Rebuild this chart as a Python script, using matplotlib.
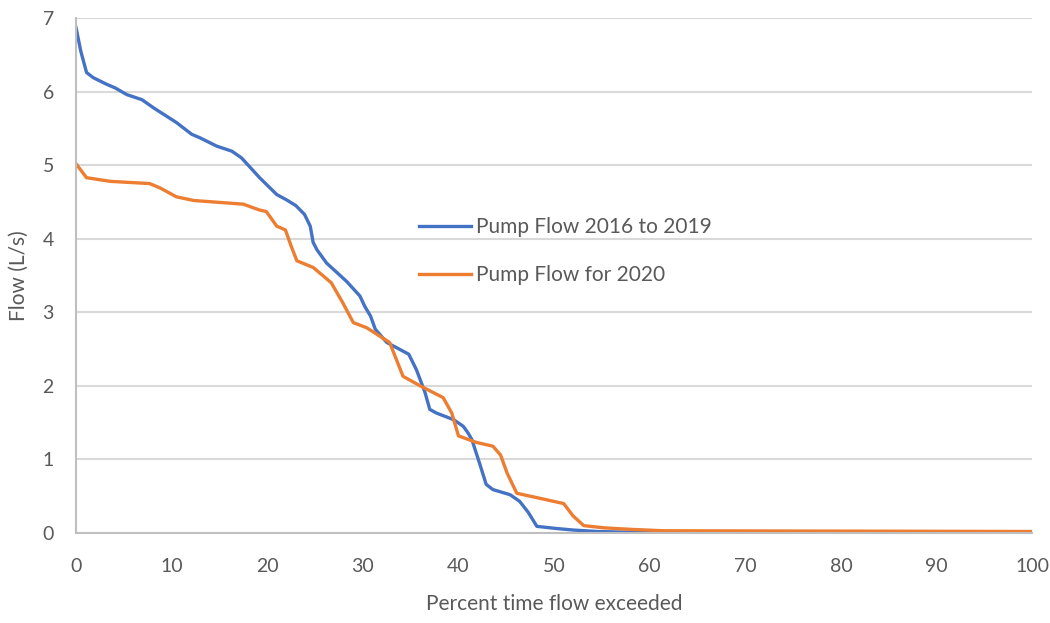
import matplotlib
matplotlib.use("Agg")
import matplotlib.pyplot as plt

# values (percent exceeded, flow L/s)
x_old = [0, 0.5, 1.1, 1.8, 3.2, 4.1, 5.3, 6.9, 8.1, 10.5, 12.1, 13.0, 14.7, 16.3, 17.3,
         19.2, 21.0, 22.0, 23.0, 23.9, 24.5, 24.8, 25.2, 26.2, 28.3, 29.7, 30.2, 30.8,
         31.3, 32.5, 34.8, 35.6, 36.5, 37.0, 37.7, 39.5, 40.5, 41.0, 41.4, 42.2, 42.9,
         43.6, 45.4, 46.4, 47.3, 48.2, 50.3, 52.0, 54.5, 58.0, 62.0, 100]
y_old = [6.87, 6.55, 6.26, 6.19, 6.10, 6.05, 5.96, 5.89, 5.78, 5.58, 5.42, 5.37, 5.26, 5.19, 5.10,
         4.83, 4.60, 4.53, 4.45, 4.33, 4.17, 3.95, 3.85, 3.67, 3.42, 3.22, 3.08, 2.95,
         2.77, 2.59, 2.43, 2.22, 1.91, 1.68, 1.63, 1.54, 1.45, 1.36, 1.27, 0.95, 0.66,
         0.59, 0.52, 0.43, 0.28, 0.09, 0.06, 0.04, 0.02, 0.01, 0.0, 0.0]

x_2020 = [0, 1.1, 3.6, 7.7, 8.8, 10.5, 12.3, 17.5, 19.2, 19.9, 21.0, 21.9, 22.5, 23.1,
          24.8, 25.9, 26.7, 27.9, 29.0, 30.4, 32.8, 33.5, 34.2, 36.0, 38.4, 39.3, 40.0,
          41.9, 43.6, 44.4, 45.1, 46.1, 48.2, 50.3, 51.0, 52.0, 53.1, 55.2, 57.9, 61.4, 100]
y_2020 = [5.02, 4.83, 4.78, 4.75, 4.69, 4.57, 4.52, 4.47, 4.39, 4.37, 4.17, 4.12, 3.90, 3.70,
          3.61, 3.49, 3.40, 3.13, 2.86, 2.79, 2.59, 2.36, 2.13, 2.00, 1.84, 1.63, 1.32,
          1.23, 1.18, 1.06, 0.81, 0.54, 0.48, 0.42, 0.40, 0.23, 0.10, 0.07, 0.05, 0.03, 0.02]

labels = ["Pump Flow 2016 to 2019", "Pump Flow for 2020"]
colors = ["#4472C4", "#ED7D31"]

plt.rcParams['font.family'] = ['Lato', 'DejaVu Sans']
txt = "#595959"

fig = plt.figure(figsize=(10.5, 6.23), dpi=100)
ax = fig.add_axes([0.0724, 0.1445, 0.9106, 0.8265])

ax.plot(x_old, y_old, color=colors[0], lw=2.4, label=labels[0], solid_joinstyle="round")
ax.plot(x_2020, y_2020, color=colors[1], lw=2.4, label=labels[1], solid_joinstyle="round")

ax.set_xlim(0, 100)
ax.set_ylim(0, 7)
ax.set_xticks(range(0, 101, 10))
ax.set_yticks(range(0, 8))
ax.grid(axis="y", color="#d9d9d9", lw=1.5)
ax.set_axisbelow(True)
for s in ["top", "right"]:
    ax.spines[s].set_visible(False)
ax.spines["left"].set_color("#bfbfbf")
ax.spines["bottom"].set_color("#bfbfbf")
ax.spines["left"].set_linewidth(1.5)
ax.spines["bottom"].set_linewidth(1.5)
ax.tick_params(length=0, labelsize=14, colors=txt)
ax.tick_params(axis="x", pad=18)
ax.tick_params(axis="y", pad=16)
ax.set_xlabel("Percent time flow exceeded", fontsize=15, color=txt, labelpad=14)
ax.set_ylabel("Flow (L/s)", fontsize=15, color=txt, labelpad=10)

leg = fig.legend(loc="upper left", bbox_to_anchor=(0.381, 0.682), frameon=False,
                 fontsize=15, handlelength=2.5, handletextpad=0.25, labelspacing=1.35)
for t in leg.get_texts():
    t.set_color(txt)

fig.savefig("out.png", dpi=100)
